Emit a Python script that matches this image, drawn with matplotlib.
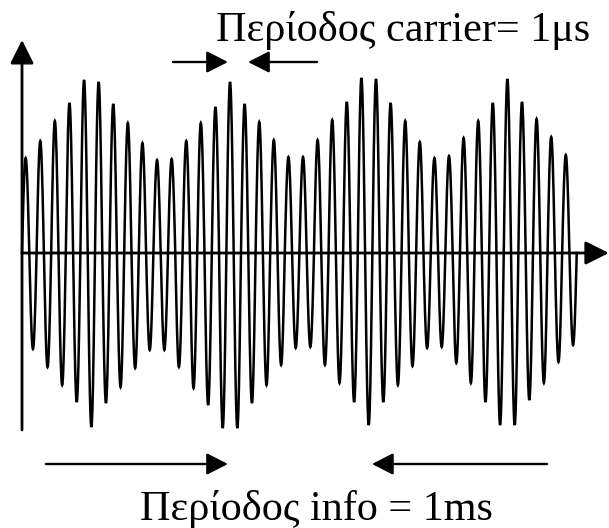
import numpy as np
import matplotlib
matplotlib.use("Agg")
import matplotlib.pyplot as plt

# Amplitude of each positive half-cycle (carrier peaks)
peaks = [0.95, 1.12, 1.32, 1.50, 1.73, 1.71, 1.49, 1.30, 1.10, 0.93,
         0.94, 1.12, 1.30, 1.46, 1.71, 1.49, 1.31, 1.13, 0.96, 0.96,
         1.13, 1.33, 1.51, 1.75, 1.74, 1.50, 1.32, 1.11, 0.95, 0.97,
         1.15, 1.32, 1.50, 1.74, 1.51, 1.34, 1.16, 0.98]
# Amplitude of each negative half-cycle (carrier troughs)
troughs = [0.96, 1.14, 1.32, 1.49, 1.74, 1.50, 1.34, 1.15, 0.97, 0.97,
           1.14, 1.35, 1.52, 1.75, 1.75, 1.50, 1.32, 1.12, 0.95, 0.94,
           1.12, 1.30, 1.49, 1.72, 1.49, 1.32, 1.13, 0.95, 0.94, 1.10,
           1.30, 1.49, 1.72, 1.72, 1.47, 1.30, 1.09, 0.92]

label_carrier = "Περίοδος carrier= 1μs"
label_info = "Περίοδος info = 1ms"

n_cycles = len(peaks)

# carrier drawn half-cycle by half-cycle, each with its own amplitude
t = np.linspace(0, n_cycles, n_cycles * 80 + 1)
half = np.minimum((t * 2).astype(int), 2 * n_cycles - 1)
amp = np.where(half % 2 == 0, np.array(peaks)[half // 2], np.array(troughs)[half // 2])
signal = amp * np.sin(2 * np.pi * t)

fig = plt.figure(figsize=(6.09, 5.28), dpi=100)
ax = fig.add_axes([0, 0, 1, 1])
ax.set_xlim(-1.507, 40.21)
ax.set_ylim(-2.75, 2.53)
ax.axis("off")

ax.plot(t, signal, color="black", lw=1.8, solid_joinstyle="miter")

big_head = dict(arrowstyle="-|>,head_length=0.72,head_width=0.36", mutation_scale=20,
                color="black", lw=2.0, shrinkA=0, shrinkB=0)
small_head = dict(arrowstyle="-|>,head_length=0.65,head_width=0.33", mutation_scale=20,
                  color="black", lw=1.7, shrinkA=0, shrinkB=0)

# axes with arrow heads
ax.annotate("", xy=(0, 2.13), xytext=(0, -1.77), arrowprops=big_head)
ax.annotate("", xy=(40.2, 0), xytext=(0, 0), arrowprops=big_head)

# carrier period marker
ax.annotate("", xy=(14.11, 1.91), xytext=(10.34, 1.91), arrowprops=small_head)
ax.annotate("", xy=(15.48, 1.91), xytext=(20.21, 1.91), arrowprops=small_head)
ax.text(0.6626, 1 - 41 / 528, label_carrier, transform=fig.transFigure,
        ha="center", va="baseline", fontsize=30.3, family="Liberation Serif")

# info period marker
ax.annotate("", xy=(14.11, -2.11), xytext=(1.64, -2.11), arrowprops=small_head)
ax.annotate("", xy=(23.97, -2.11), xytext=(35.96, -2.11), arrowprops=small_head)
ax.text(0.5197, 1 - 520 / 528, label_info, transform=fig.transFigure,
        ha="center", va="baseline", fontsize=30.3, family="Liberation Serif")

fig.savefig("out.png", dpi=100)
